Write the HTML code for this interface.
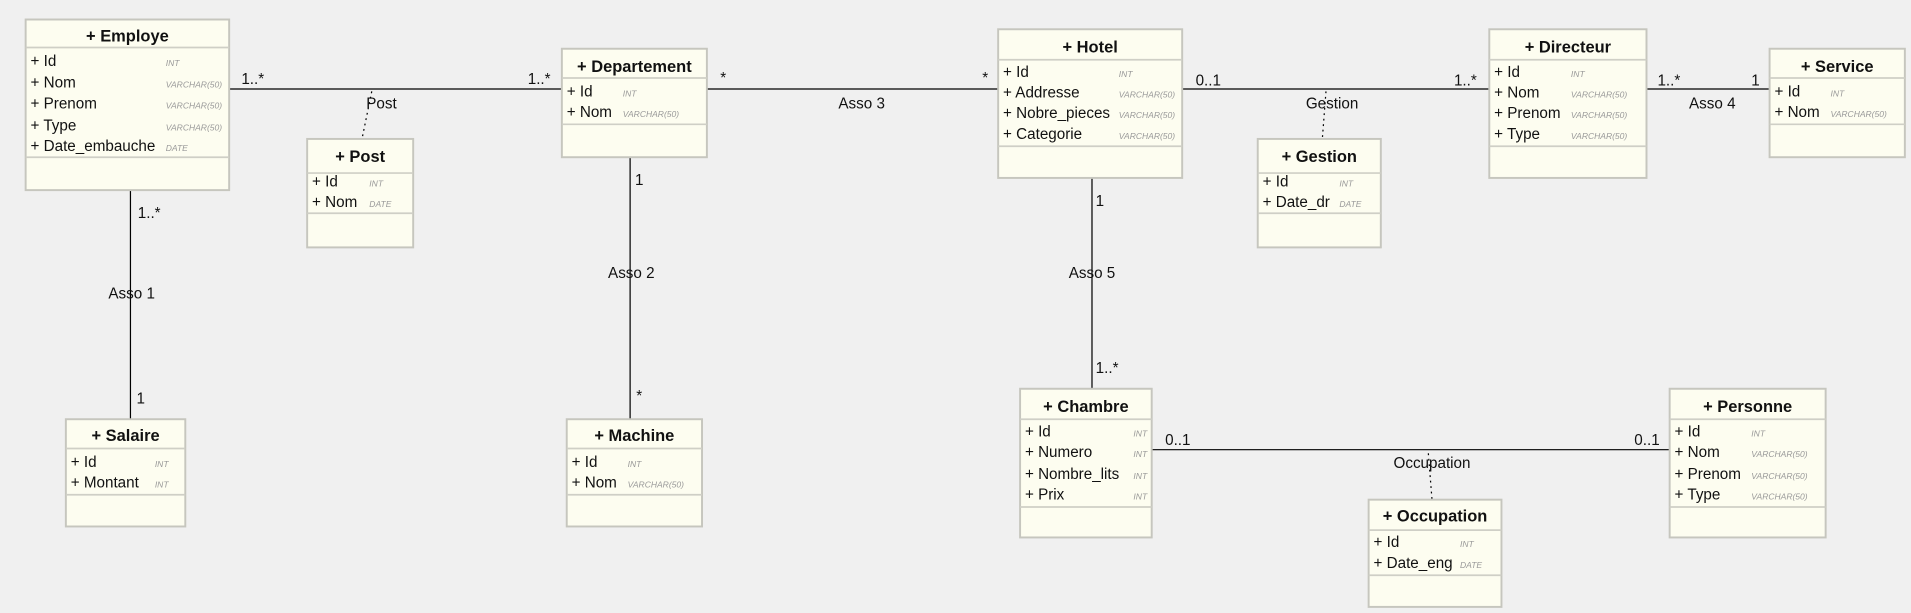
<!DOCTYPE html>
<html><head><meta charset="utf-8"><style>
html,body{margin:0;padding:0;background:#f0f0f0;}
svg{display:block;}
text{font-family:"Liberation Sans",sans-serif;fill:#111;}
.t{font-weight:bold;font-size:13.5px;text-anchor:middle;}
.a{font-size:12.5px;}
.ty{font-size:7px;font-style:italic;fill:#999;}
.l{font-size:12.5px;}
.box{fill:#fdfdf0;stroke:#c6c6be;stroke-width:1.6;}
.sep{stroke:#cfcfc6;stroke-width:1.4;}
.ln{stroke:#000;stroke-width:1;fill:none;}
.dt{stroke:#000;stroke-width:1;stroke-dasharray:1.5,3;fill:none;}
</style></head><body>
<svg width="1911" height="613" viewBox="0 0 1568 503" xmlns="http://www.w3.org/2000/svg">
<rect width="1568" height="503" fill="#f0f0f0"/>
<!-- connectors -->
<line class="ln" x1="188" y1="73" x2="461" y2="73"/>
<line class="ln" x1="580" y1="73" x2="819" y2="73"/>
<line class="ln" x1="970" y1="73" x2="1222" y2="73"/>
<line class="ln" x1="1351" y1="73" x2="1452" y2="73"/>
<line class="ln" x1="107" y1="156" x2="107" y2="344"/>
<line class="ln" x1="517" y1="129" x2="517" y2="344"/>
<line class="ln" x1="896" y1="146" x2="896" y2="319"/>
<line class="ln" x1="945" y1="369" x2="1370" y2="369"/>
<path class="dt" d="M305 75 L297 114"/>
<path class="dt" d="M1088 75 L1085 114"/>
<path class="dt" d="M1172 372 L1175 410"/>
<!-- labels -->
<g class="l">
<text x="198" y="69">1..*</text>
<text x="433" y="69">1..*</text>
<text x="313" y="89" text-anchor="middle">Post</text>
<text x="591" y="68">*</text>
<text x="806" y="68">*</text>
<text x="707" y="89" text-anchor="middle">Asso 3</text>
<text x="981" y="70">0..1</text>
<text x="1193" y="70">1..*</text>
<text x="1093" y="89" text-anchor="middle">Gestion</text>
<text x="1360" y="70">1..*</text>
<text x="1437" y="70">1</text>
<text x="1405" y="89" text-anchor="middle">Asso 4</text>
<text x="113" y="179">1..*</text>
<text x="108" y="245" text-anchor="middle">Asso 1</text>
<text x="112" y="331">1</text>
<text x="521" y="152">1</text>
<text x="518" y="228" text-anchor="middle">Asso 2</text>
<text x="522" y="329">*</text>
<text x="899" y="169">1</text>
<text x="896" y="228" text-anchor="middle">Asso 5</text>
<text x="899" y="306">1..*</text>
<text x="956" y="365">0..1</text>
<text x="1341" y="365">0..1</text>
<text x="1175" y="384" text-anchor="middle">Occupation</text>
</g>

<!-- Employe -->
<rect class="box" x="21" y="16" width="167" height="140"/>
<line class="sep" x1="21" y1="39" x2="188" y2="39"/><line class="sep" x1="21" y1="129" x2="188" y2="129"/>
<text class="t" x="104.5" y="34">+ Employe</text>
<text class="a" x="25" y="54">+ Id</text><text class="ty" x="136" y="54">INT</text>
<text class="a" x="25" y="72">+ Nom</text><text class="ty" x="136" y="72">VARCHAR(50)</text>
<text class="a" x="25" y="89">+ Prenom</text><text class="ty" x="136" y="89">VARCHAR(50)</text>
<text class="a" x="25" y="107">+ Type</text><text class="ty" x="136" y="107">VARCHAR(50)</text>
<text class="a" x="25" y="124">+ Date_embauche</text><text class="ty" x="136" y="124">DATE</text>

<!-- Post -->
<rect class="box" x="252" y="114" width="87" height="89"/>
<line class="sep" x1="252" y1="142" x2="339" y2="142"/><line class="sep" x1="252" y1="175" x2="339" y2="175"/>
<text class="t" x="295.5" y="133">+ Post</text>
<text class="a" x="256" y="153">+ Id</text><text class="ty" x="303" y="153">INT</text>
<text class="a" x="256" y="170">+ Nom</text><text class="ty" x="303" y="170">DATE</text>

<!-- Departement -->
<rect class="box" x="461" y="40" width="119" height="89"/>
<line class="sep" x1="461" y1="64" x2="580" y2="64"/><line class="sep" x1="461" y1="102" x2="580" y2="102"/>
<text class="t" x="520.5" y="59">+ Departement</text>
<text class="a" x="465" y="79">+ Id</text><text class="ty" x="511" y="79">INT</text>
<text class="a" x="465" y="96">+ Nom</text><text class="ty" x="511" y="96">VARCHAR(50)</text>

<!-- Hotel -->
<rect class="box" x="819" y="24" width="151" height="122"/>
<line class="sep" x1="819" y1="49" x2="970" y2="49"/><line class="sep" x1="819" y1="120" x2="970" y2="120"/>
<text class="t" x="894.5" y="43">+ Hotel</text>
<text class="a" x="823" y="63">+ Id</text><text class="ty" x="918" y="63">INT</text>
<text class="a" x="823" y="80">+ Addresse</text><text class="ty" x="918" y="80">VARCHAR(50)</text>
<text class="a" x="823" y="97">+ Nobre_pieces</text><text class="ty" x="918" y="97">VARCHAR(50)</text>
<text class="a" x="823" y="114">+ Categorie</text><text class="ty" x="918" y="114">VARCHAR(50)</text>

<!-- Gestion -->
<rect class="box" x="1032" y="114" width="101" height="89"/>
<line class="sep" x1="1032" y1="142" x2="1133" y2="142"/><line class="sep" x1="1032" y1="175" x2="1133" y2="175"/>
<text class="t" x="1082.5" y="133">+ Gestion</text>
<text class="a" x="1036" y="153">+ Id</text><text class="ty" x="1099" y="153">INT</text>
<text class="a" x="1036" y="170">+ Date_dr</text><text class="ty" x="1099" y="170">DATE</text>

<!-- Directeur -->
<rect class="box" x="1222" y="24" width="129" height="122"/>
<line class="sep" x1="1222" y1="49" x2="1351" y2="49"/><line class="sep" x1="1222" y1="120" x2="1351" y2="120"/>
<text class="t" x="1286.5" y="43">+ Directeur</text>
<text class="a" x="1226" y="63">+ Id</text><text class="ty" x="1289" y="63">INT</text>
<text class="a" x="1226" y="80">+ Nom</text><text class="ty" x="1289" y="80">VARCHAR(50)</text>
<text class="a" x="1226" y="97">+ Prenom</text><text class="ty" x="1289" y="97">VARCHAR(50)</text>
<text class="a" x="1226" y="114">+ Type</text><text class="ty" x="1289" y="114">VARCHAR(50)</text>

<!-- Service -->
<rect class="box" x="1452" y="40" width="111" height="89"/>
<line class="sep" x1="1452" y1="64" x2="1563" y2="64"/><line class="sep" x1="1452" y1="102" x2="1563" y2="102"/>
<text class="t" x="1507.5" y="59">+ Service</text>
<text class="a" x="1456" y="79">+ Id</text><text class="ty" x="1502" y="79">INT</text>
<text class="a" x="1456" y="96">+ Nom</text><text class="ty" x="1502" y="96">VARCHAR(50)</text>

<!-- Salaire -->
<rect class="box" x="54" y="344" width="98" height="88"/>
<line class="sep" x1="54" y1="368" x2="152" y2="368"/><line class="sep" x1="54" y1="406" x2="152" y2="406"/>
<text class="t" x="103" y="362">+ Salaire</text>
<text class="a" x="58" y="383">+ Id</text><text class="ty" x="127" y="383">INT</text>
<text class="a" x="58" y="400">+ Montant</text><text class="ty" x="127" y="400">INT</text>

<!-- Machine -->
<rect class="box" x="465" y="344" width="111" height="88"/>
<line class="sep" x1="465" y1="368" x2="576" y2="368"/><line class="sep" x1="465" y1="406" x2="576" y2="406"/>
<text class="t" x="520.5" y="362">+ Machine</text>
<text class="a" x="469" y="383">+ Id</text><text class="ty" x="515" y="383">INT</text>
<text class="a" x="469" y="400">+ Nom</text><text class="ty" x="515" y="400">VARCHAR(50)</text>

<!-- Chambre -->
<rect class="box" x="837" y="319" width="108" height="122"/>
<line class="sep" x1="837" y1="344" x2="945" y2="344"/><line class="sep" x1="837" y1="416" x2="945" y2="416"/>
<text class="t" x="891" y="338">+ Chambre</text>
<text class="a" x="841" y="358">+ Id</text><text class="ty" x="930" y="358">INT</text>
<text class="a" x="841" y="375">+ Numero</text><text class="ty" x="930" y="375">INT</text>
<text class="a" x="841" y="393">+ Nombre_lits</text><text class="ty" x="930" y="393">INT</text>
<text class="a" x="841" y="410">+ Prix</text><text class="ty" x="930" y="410">INT</text>

<!-- Occupation -->
<rect class="box" x="1123" y="410" width="109" height="88"/>
<line class="sep" x1="1123" y1="435" x2="1232" y2="435"/><line class="sep" x1="1123" y1="472" x2="1232" y2="472"/>
<text class="t" x="1177.5" y="428">+ Occupation</text>
<text class="a" x="1127" y="449">+ Id</text><text class="ty" x="1198" y="449">INT</text>
<text class="a" x="1127" y="466">+ Date_eng</text><text class="ty" x="1198" y="466">DATE</text>

<!-- Personne -->
<rect class="box" x="1370" y="319" width="128" height="122"/>
<line class="sep" x1="1370" y1="344" x2="1498" y2="344"/><line class="sep" x1="1370" y1="416" x2="1498" y2="416"/>
<text class="t" x="1434" y="338">+ Personne</text>
<text class="a" x="1374" y="358">+ Id</text><text class="ty" x="1437" y="358">INT</text>
<text class="a" x="1374" y="375">+ Nom</text><text class="ty" x="1437" y="375">VARCHAR(50)</text>
<text class="a" x="1374" y="393">+ Prenom</text><text class="ty" x="1437" y="393">VARCHAR(50)</text>
<text class="a" x="1374" y="410">+ Type</text><text class="ty" x="1437" y="410">VARCHAR(50)</text>
</svg>
</body></html>
